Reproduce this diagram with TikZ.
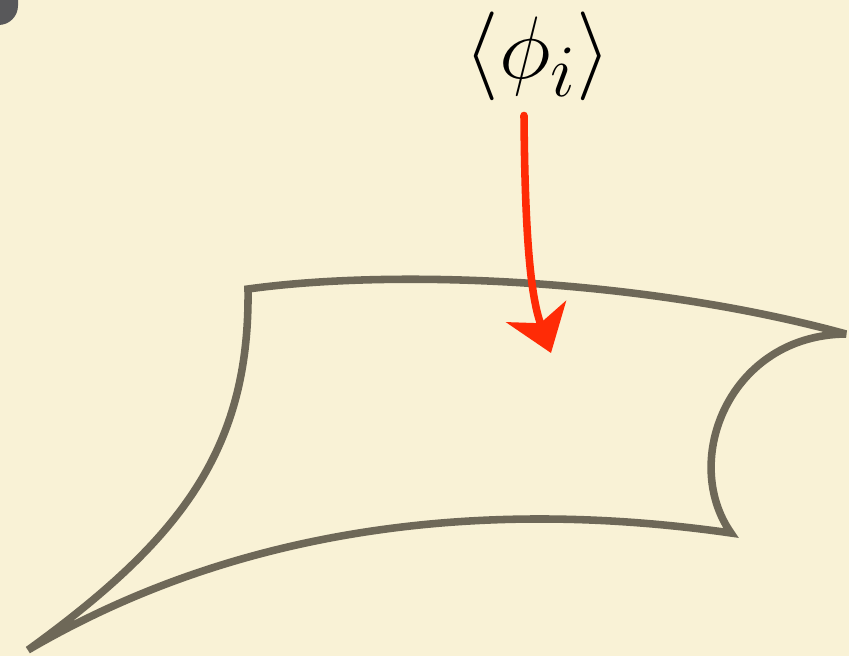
\documentclass[tikz,border=0pt]{standalone}
\usetikzlibrary{arrows.meta}
\definecolor{paper}{HTML}{F9F2D6}
\definecolor{sheet}{HTML}{6E6858}
\definecolor{ink}{HTML}{FF2B06}
\definecolor{tab}{HTML}{58585A}
\tikzset{
  surf/.style={draw=sheet,line width=4.3pt,line join=miter,miter limit=4},
  inkarrow/.style={draw=ink,line width=4.3pt,line cap=round,-{Stealth[length=25pt,width=36pt,inset=7pt]}},
}
\begin{document}
\begin{tikzpicture}[x=0.02cm,y=-0.02cm]
  \fill[paper] (0,0) rectangle (849,656);
  \useasboundingbox (0,0) rectangle (849,656);
  \fill[tab,rounded corners=11pt] (-40,-40) rectangle (18,25);
  \draw[surf] (248,289) .. controls (400,268) and (650,280) .. (846,334)
    .. controls (730,335) and (680,460) .. (731,533)
    .. controls (500,500) and (250,520) .. (28,650)
    .. controls (180,540) and (250,450) .. cycle;
  \node[scale=2.03] (phi) at (538,56) {\Huge$\langle\phi_i\rangle$};
  \coordinate (tip) at (551,353);
  \draw[inkarrow] ([xshift=-0.28cm,yshift=-0.05cm]phi.south) .. controls (525,250) and (532,300) .. (tip);
\end{tikzpicture}
\end{document}
